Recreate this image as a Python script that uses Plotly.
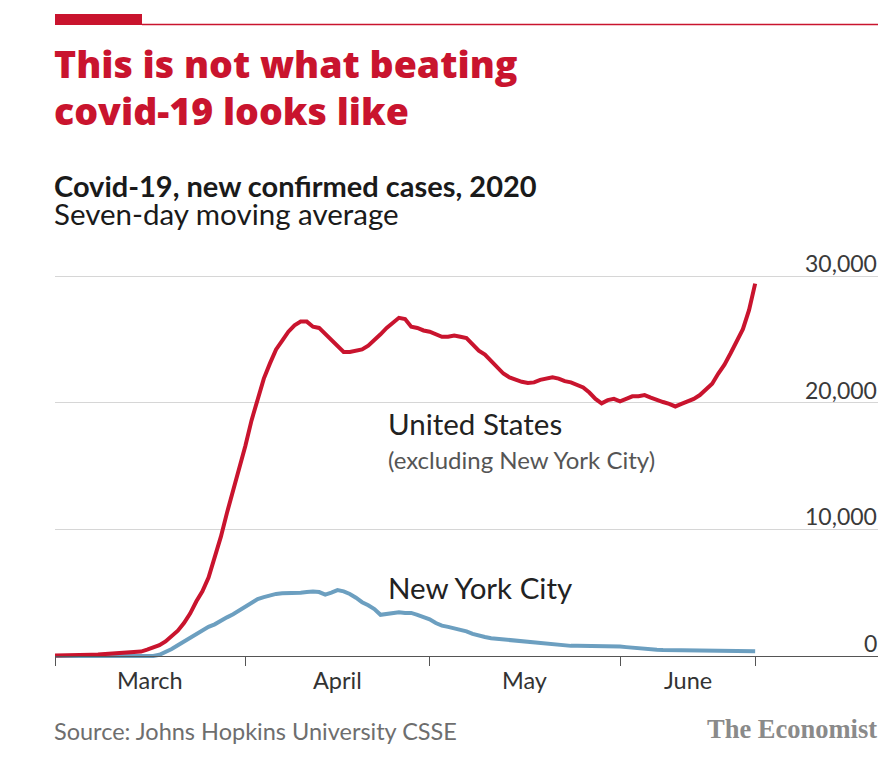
import pandas as pd
import plotly.graph_objects as go

# ---------------- data (thousands of new cases, 7-day average) ----------------
start_date = "2020-03-01"
end_date = "2020-06-23"

us_excl_nyc = [
    0.03, 0.03, 0.04, 0.05, 0.06, 0.08, 0.10, 0.12, 0.15, 0.18,
    0.21, 0.24, 0.28, 0.31, 0.35, 0.50, 0.68, 0.85, 1.15, 1.55,
    2.00, 2.60, 3.35, 4.30, 5.10, 6.20, 7.80, 9.40, 11.3, 13.0,
    14.8, 16.6, 18.6, 20.3, 21.9, 23.1, 24.2, 24.9, 25.6, 26.1,
    26.4, 26.4, 26.0, 25.9, 25.4, 24.9, 24.4, 24.0, 24.0, 24.1,
    24.2, 24.5, 24.9, 25.4, 25.9, 26.3, 26.7, 26.6, 26.0, 25.9,
    25.7, 25.6, 25.4, 25.2, 25.2, 25.3, 25.2, 25.1, 24.6, 24.1,
    23.8, 23.3, 22.8, 22.3, 22.0, 21.8, 21.65, 21.55, 21.6, 21.8,
    21.9, 22.0, 21.9, 21.7, 21.6, 21.4, 21.2, 20.8, 20.3, 19.95,
    20.2, 20.3, 20.1, 20.3, 20.5, 20.5, 20.6, 20.4, 20.2, 20.05,
    19.9, 19.7, 19.9, 20.1, 20.3, 20.6, 21.0, 21.5, 22.3, 23.0,
    23.9, 24.8, 25.8, 27.3, 29.4,
]

nyc = [
    0.0, 0.0, 0.0, 0.0, 0.0, 0.0, 0.0, 0.0, 0.0, 0.0,
    0.0, 0.0, 0.0, 0.0, 0.0, 0.0, 0.0, 0.10, 0.30, 0.55,
    0.85, 1.15, 1.45, 1.75, 2.05, 2.30, 2.50, 2.80, 3.05, 3.30,
    3.60, 3.95, 4.25, 4.50, 4.65, 4.80, 4.90, 4.95, 4.95, 5.00,
    5.00, 5.05, 5.10, 5.05, 4.85, 5.00, 5.20, 5.10, 4.90, 4.60,
    4.25, 4.00, 3.70, 3.25, 3.30, 3.35, 3.45, 3.40, 3.40, 3.25,
    3.10, 2.90, 2.60, 2.40, 2.30, 2.20, 2.10, 1.95, 1.75, 1.60,
    1.50, 1.40, 1.35, 1.30, 1.25, 1.20, 1.20, 1.15, 1.10, 1.05,
    1.00, 0.95, 0.90, 0.85, 0.80, 0.80, 0.80, 0.80, 0.80, 0.80,
    0.78, 0.75, 0.75, 0.70, 0.65, 0.60, 0.55, 0.52, 0.50, 0.48,
    0.47, 0.46, 0.45, 0.44, 0.43, 0.42, 0.42, 0.41, 0.40, 0.40,
    0.39, 0.39, 0.38, 0.38, 0.38,
]

x_tick_dates = ["2020-03-01", "2020-04-01", "2020-05-01", "2020-06-01", "2020-06-23"]
month_labels = ["March", "April", "May", "June"]

y_tick_values = [0, 10000, 20000, 30000]
y_tick_labels = ["0", "10,000", "20,000", "30,000"]

title_lines = ["This is not what beating", "covid-19 looks like"]
subtitle = "Covid-19, new confirmed cases, 2020"
subtitle2 = "Seven-day moving average"
us_label = "United States"
us_sub_label = "(excluding New York City)"
nyc_label = "New York City"
source_text = "Source: Johns Hopkins University CSSE"
brand_text = "The Economist"

# ---------------- styling / geometry (page pixels) ----------------
OFF = 8                      # default body margin of the page
W, H = 887 - OFF, 766 - OFF  # figure size
PL, PR = 55, 878             # plot left / right (page px)
PT, PB = 272, 665            # plot top / bottom (page px)
Y0_PX, Y30_PX = 656, 276     # page px of y=0 and y=30000
per_px = 30000 / (Y0_PX - Y30_PX)
y_max = (Y0_PX - PT) * per_px
y_min = -(PB - Y0_PX) * per_px

RED = "#c9142e"
BLUE = "#6c9fc0"
FONT = "Lato"

dates = pd.date_range(start_date, end_date, freq="D")
us_vals = [v * 1000 for v in us_excl_nyc]
nyc_vals = [v * 1000 for v in nyc]


def px_x(p):
    return (p - PL) / (PR - PL)


def px_y(p):
    return (PB - p) / (PB - PT)


def val_at(p):
    return (Y0_PX - p) * per_px


fig = go.Figure()
fig.add_trace(go.Scatter(x=dates, y=nyc_vals, mode="lines",
                         line=dict(color=BLUE, width=4), hoverinfo="skip"))
fig.add_trace(go.Scatter(x=dates, y=us_vals, mode="lines",
                         line=dict(color=RED, width=4), hoverinfo="skip"))

tick_ts = pd.to_datetime(x_tick_dates)
mids = [tick_ts[i] + (tick_ts[i + 1] - tick_ts[i]) / 2 for i in range(len(month_labels))]

annotations = []
for m, lab in zip(mids, month_labels):
    annotations.append(dict(x=m, y=0, xref="x", yref="y", text=lab, showarrow=False,
                            xanchor="center", yanchor="top", yshift=-8,
                            font=dict(family=FONT, size=23.5, color="#333333")))

for v, lab in zip(y_tick_values, y_tick_labels):
    annotations.append(dict(x=1, y=v, xref="paper", yref="y", text=lab, showarrow=False,
                            xanchor="right", yanchor="bottom", yshift=-3, xshift=1,
                            font=dict(family=FONT, size=23, color="#3a3a3a")))

label_x = pd.Timestamp("2020-04-24 05:00")
annotations += [
    dict(x=label_x, y=val_at(423), xref="x", yref="y", text=us_label,
         showarrow=False, xanchor="left", yanchor="middle", xshift=-2,
         font=dict(family=FONT, size=29.5, color="#222222")),
    dict(x=label_x, y=val_at(459), xref="x", yref="y", text=us_sub_label,
         showarrow=False, xanchor="left", yanchor="middle", xshift=-2,
         font=dict(family=FONT, size=24, color="#555555")),
    dict(x=label_x, y=val_at(587), xref="x", yref="y", text=nyc_label,
         showarrow=False, xanchor="left", yanchor="middle", xshift=-2,
         font=dict(family=FONT, size=29.5, color="#222222")),
]

# two-line subtitle in one text block; line pitch follows the base font size
subtitle_block = (
    "<span style='font-size:29px'><b>" + subtitle + "</b></span><br>"
    + "<span style='font-size:29.5px'>" + subtitle2 + "</span>"
)

annotations += [
    dict(x=px_x(52), y=px_y(63), xref="paper", yref="paper", text=title_lines[0],
         showarrow=False, xanchor="left", yanchor="middle",
         font=dict(family="Open Sans", size=37.5, color=RED, weight=800)),
    dict(x=px_x(52), y=px_y(110), xref="paper", yref="paper", text=title_lines[1],
         showarrow=False, xanchor="left", yanchor="middle",
         font=dict(family="Open Sans", size=37.5, color=RED, weight=800)),
    dict(x=px_x(52), y=px_y(200), xref="paper", yref="paper", text=subtitle_block,
         showarrow=False, xanchor="left", yanchor="middle", align="left",
         font=dict(family=FONT, size=21.9, color="#1a1a1a")),
    dict(x=px_x(52), y=px_y(731), xref="paper", yref="paper", text=source_text,
         showarrow=False, xanchor="left", yanchor="middle",
         font=dict(family=FONT, size=23.5, color="#6e6e6e")),
    dict(x=px_x(879), y=px_y(729), xref="paper", yref="paper", text=brand_text,
         showarrow=False, xanchor="right", yanchor="middle",
         font=dict(family="Liberation Serif", size=26.5, color="#8a8a8a", weight=700)),
]

shapes = [
    dict(type="rect", xref="paper", yref="paper", x0=px_x(55), x1=px_x(142),
         y0=px_y(25), y1=px_y(14), fillcolor=RED, line=dict(width=0)),
    dict(type="line", xref="paper", yref="paper", x0=px_x(142), x1=px_x(878),
         y0=px_y(24.5), y1=px_y(24.5), line=dict(color=RED, width=1.5)),
]

fig.update_layout(
    width=W, height=H,
    margin=dict(l=PL - OFF, r=(W + OFF) - PR, t=PT - OFF, b=(H + OFF) - PB, pad=0),
    paper_bgcolor="white", plot_bgcolor="white",
    showlegend=False,
    annotations=annotations,
    shapes=shapes,
    xaxis=dict(
        type="date",
        range=[pd.Timestamp("2020-03-01"), pd.Timestamp("2020-07-13")],
        tickvals=tick_ts, showticklabels=False,
        ticks="outside", ticklen=9, tickwidth=1.3, tickcolor="#555555",
        showline=True, linecolor="#555555", linewidth=1.3,
        showgrid=False, zeroline=False,
        anchor="free", position=(0 - y_min) / (y_max - y_min),
    ),
    yaxis=dict(
        range=[y_min, y_max],
        tickvals=y_tick_values, showticklabels=False,
        ticks="", showline=False, zeroline=False,
        showgrid=True, gridcolor="#d6d6d6", gridwidth=1.3,
    ),
)

fig.write_html("out.html")
